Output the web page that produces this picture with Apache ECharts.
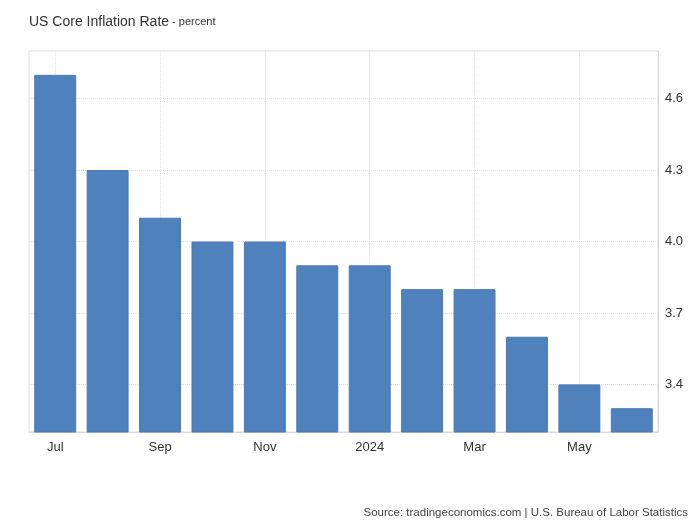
<!DOCTYPE html>
<html><head><meta charset="utf-8">
<script src="https://cdn.jsdelivr.net/npm/echarts@6/dist/echarts.min.js"></script>
<style>html,body{margin:0;padding:0;background:#fff}#c{width:700px;height:529px}</style>
</head><body><div id="c"></div>
<script>
const months = ['Jul','Aug','Sep','Oct','Nov','Dec','2024','Feb','Mar','Apr','May','Jun'];
const coreInflation = [4.7, 4.3, 4.1, 4.0, 4.0, 3.9, 3.9, 3.8, 3.8, 3.6, 3.4, 3.3];
const yTicks = [3.4, 3.7, 4.0, 4.3, 4.6];
const xGridCats = ['Jul','Sep','Nov','2024','Mar','May'];

const chart = echarts.init(document.getElementById('c'), null, {renderer:'canvas'});
const gridColor = '#e0e0e0';
chart.setOption({
  animation: false,
  textStyle: {fontFamily: 'Liberation Sans, Arial, sans-serif'},
  title: [{
    text: 'US Core Inflation Rate{s| - percent}',
    left: 24, top: 5,
    textStyle: {fontSize: 14, fontWeight: 'normal', color: '#333', lineHeight: 24,
      rich: {s: {fontSize: 11, color: '#333', lineHeight: 24}}}
  },{
    text: 'Source: tradingeconomics.com | U.S. Bureau of Labor Statistics',
    right: 7, top: 501,
    textStyle: {fontSize: 11.5, fontWeight: 'normal', color: '#444', lineHeight: 14}
  }],
  grid: {left: 29, right: 42, top: 51, bottom: 97, show: true, borderColor: gridColor, borderWidth: 1},
  xAxis: {
    type: 'category', data: months,
    axisLine: {show: true, lineStyle: {color: '#d8d8d8'}},
    axisTick: {show: false},
    axisLabel: {interval: 1, color: '#333', fontSize: 13, margin: 9},
    splitLine: {show: false}
  },
  yAxis: {
    type: 'value', position: 'right', min: 3.2, max: 4.8,
    axisLine: {show: true, lineStyle: {color: '#d8d8d8'}},
    axisTick: {show: false, customValues: yTicks},
    axisLabel: {customValues: yTicks, color: '#333', fontSize: 13, margin: 7,
      formatter: v => v.toFixed(1)},
    splitLine: {show: true, lineStyle: {color: gridColor, type: 'dotted'}}
  },
  series: [{
    type: 'bar', data: coreInflation, barCategoryGap: '20%', z: 3,
    itemStyle: {color: '#4f81bd', borderColor: '#4a7ab5', borderWidth: 1},
    markLine: {
      z: 1, silent: true, symbol: 'none', label: {show: false},
      lineStyle: {color: gridColor, type: 'dotted', width: 1},
      data: xGridCats.map(c => ({xAxis: c}))
    }
  }]
});
</script></body></html>
